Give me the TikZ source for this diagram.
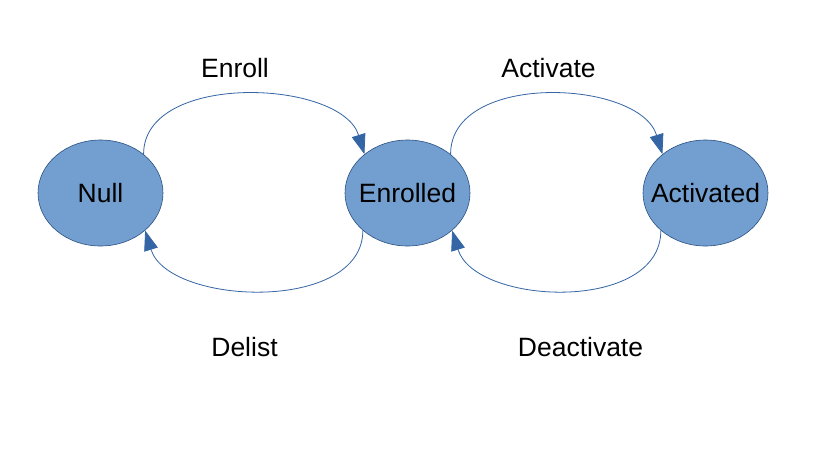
\documentclass[tikz,border=0pt]{standalone}
\usepackage{fontspec}
\setmainfont{Liberation Sans}
\usetikzlibrary{arrows.meta,shapes.geometric}
\definecolor{statefill}{HTML}{729FCF}
\definecolor{stateline}{HTML}{3465A4}
\begin{document}
\begin{tikzpicture}[x=1pt,y=-1pt,
  state/.style={ellipse,draw=stateline!80!black,line width=0.6pt,fill=statefill,
    minimum width=125pt,minimum height=106pt,inner sep=-14pt,
    font=\fontsize{26.5}{30}\selectfont},
  lbl/.style={font=\fontsize{26.5}{30}\selectfont,inner sep=0pt},
  conn/.style={draw=stateline,line width=0.8pt,
    -{Triangle[length=20pt,width=14pt,fill=stateline]}}]
\useasboundingbox[fill=white] (0,0) rectangle (834,461);
\node[state] (null) at (100.5,193) {Null};
\node[state] (enr) at (407.5,193) {Enrolled};
\node[state] (act) at (705.5,193) {Activated};
\node[lbl] (lenroll) at (235,68) {Enroll};
\node[lbl] (lactivate) at (548.5,68) {Activate};
\node[lbl] (ldelist) at (244.5,347) {Delist};
\node[lbl] (ldeact) at (580.5,347) {Deactivate};
\draw[conn] (null.42) .. controls +(0,-83) and +(-23,-75) .. (enr.138);
\draw[conn] (enr.220) .. controls +(0,83) and +(23,75) .. (null.320);
\draw[conn] (enr.42) .. controls +(0,-83) and +(-23,-75) .. (act.138);
\draw[conn] (act.220) .. controls +(0,83) and +(23,75) .. (enr.320);
\end{tikzpicture}
\end{document}
